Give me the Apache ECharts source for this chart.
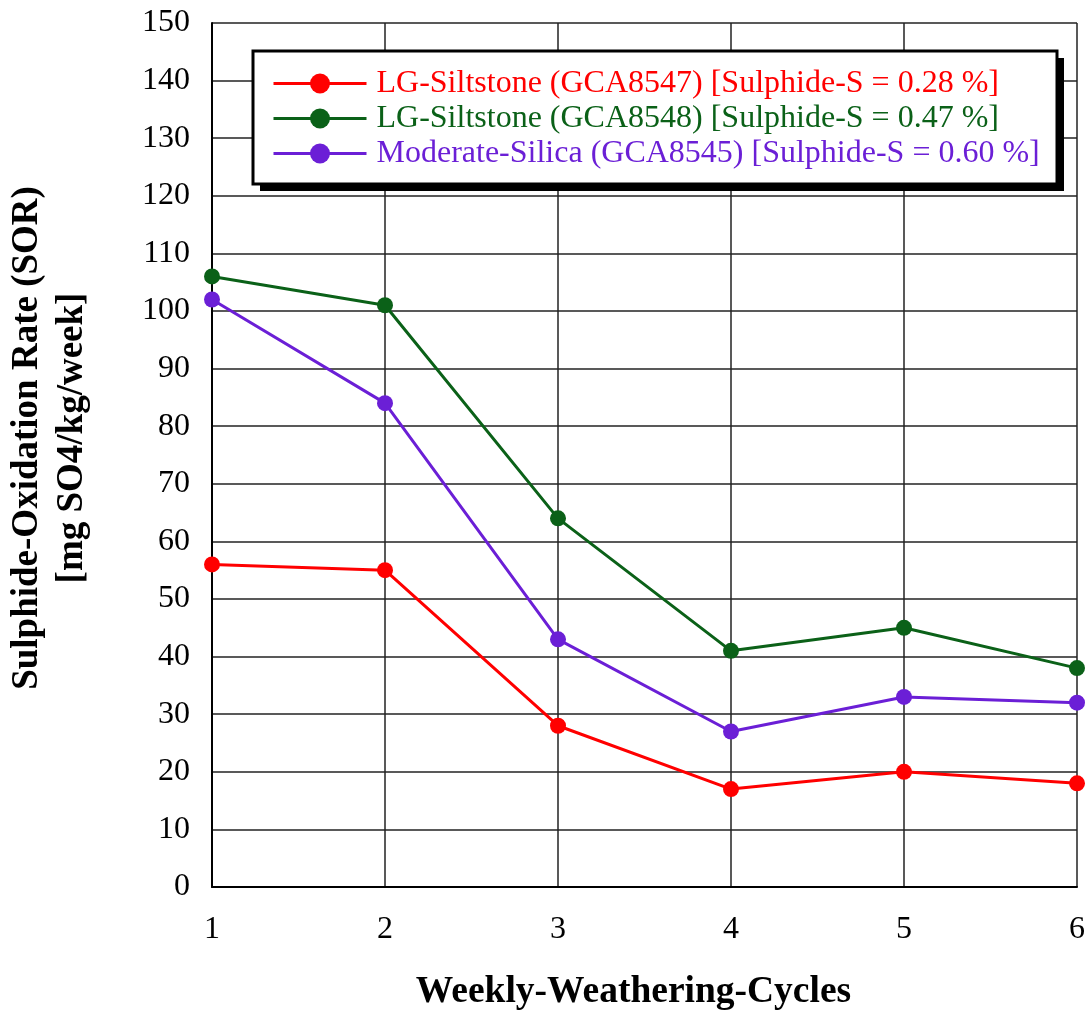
<!DOCTYPE html>
<html><head><meta charset="utf-8">
<script src="https://cdn.jsdelivr.net/npm/echarts@6/dist/echarts.min.js"></script>
<style>html,body{margin:0;padding:0;background:#fff}#c{width:1091px;height:1016px}</style>
</head><body><div id="c"></div>
<script>
const cycles = [1, 2, 3, 4, 5, 6];
const seriesNames = [
  'LG-Siltstone (GCA8547) [Sulphide-S = 0.28 %]',
  'LG-Siltstone (GCA8548) [Sulphide-S = 0.47 %]',
  'Moderate-Silica (GCA8545) [Sulphide-S = 0.60 %]'
];
const seriesColors = ['#ff0000', '#0b6118', '#6b1fd6'];
const gca8547 = [56, 55, 28, 17, 20, 18];
const gca8548 = [106, 101, 64, 41, 45, 38];
const gca8545 = [102, 84, 43, 27, 33, 32];
const yTicks = [0, 150, 10];

const values = [gca8547, gca8548, gca8545];
const font = '"Liberation Serif", "Times New Roman", serif';
const chart = echarts.init(document.getElementById('c'));
chart.setOption({
  animation: false,
  backgroundColor: '#fff',
  grid: { left: 212, top: 23, right: 14, bottom: 129, outerBoundsMode: 'none', containLabel: false },
  graphic: [
    { type: 'rect', z: 10, silent: true, shape: { x: 260, y: 58, width: 804, height: 133 }, style: { fill: '#000' } },
    { type: 'rect', z: 11, silent: true, shape: { x: 253, y: 51, width: 804, height: 133 }, style: { fill: '#fff', stroke: '#000', lineWidth: 3 } }
  ],
  legend: {
    left: 272, top: 66,
    z: 20,
    orient: 'vertical',
    padding: 0,
    itemGap: 0,
    itemWidth: 93, itemHeight: 25,
    lineStyle: { width: 3 },
    textStyle: { fontFamily: font, fontSize: 32, lineHeight: 35, padding: [0, 0, 0, 5] },
    data: seriesNames.map((n, i) => ({ name: n, textStyle: { color: seriesColors[i] } }))
  },
  xAxis: {
    type: 'value', min: 1, max: 6, interval: 1,
    name: 'Weekly-Weathering-Cycles', nameLocation: 'middle', nameGap: 86,
    nameTextStyle: { fontFamily: font, fontSize: 37.5, fontWeight: 'bold', color: '#000', padding: [0, 22, 0, 0] },
    axisLine: { lineStyle: { color: '#000', width: 2 } },
    axisTick: { show: false },
    axisLabel: { fontFamily: font, fontSize: 32, color: '#000', margin: 27 },
    splitLine: { show: true, lineStyle: { color: '#222', width: 1.5 } }
  },
  yAxis: {
    type: 'value', min: yTicks[0], max: yTicks[1], interval: yTicks[2],
    name: 'Sulphide-Oxidation Rate (SOR)\n[mg SO4/kg/week]', nameLocation: 'middle', nameGap: 117,
    nameTextStyle: { fontFamily: font, fontSize: 37, fontWeight: 'bold', color: '#000', lineHeight: 45, padding: [0, 0, 0, 34] },
    axisLine: { show: true, lineStyle: { color: '#000', width: 2 } },
    axisTick: { show: false },
    axisLabel: { fontFamily: font, fontSize: 32, color: '#000', margin: 22 },
    splitLine: { show: true, lineStyle: { color: '#222', width: 1.5 } }
  },
  series: values.map((v, i) => ({
    name: seriesNames[i],
    type: 'line',
    data: cycles.map((c, j) => [c, v[j]]),
    symbol: 'circle', symbolSize: 16,
    lineStyle: { color: seriesColors[i], width: 3 },
    itemStyle: { color: seriesColors[i] }
  }))
});
</script></body></html>
